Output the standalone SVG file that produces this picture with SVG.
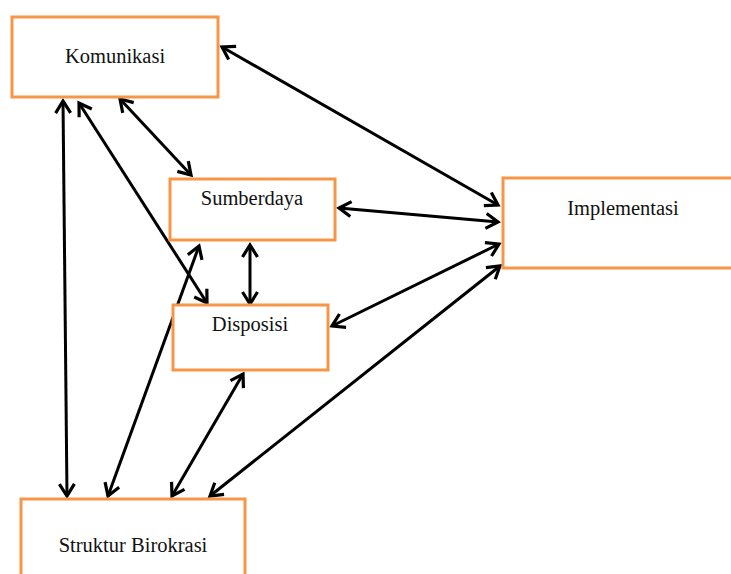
<svg xmlns="http://www.w3.org/2000/svg" width="731" height="574" viewBox="0 0 731 574">
<style>
.box{fill:#fff;stroke:#F79646;stroke-width:3}
.lbl{font-family:"Liberation Serif","Times New Roman",serif;font-size:20.5px;fill:#111;text-anchor:middle}
.c{stroke:#000;stroke-width:3;fill:none;marker-start:url(#ah);marker-end:url(#ah)}
</style>
<defs>
<marker id="ah" markerUnits="userSpaceOnUse" markerWidth="20" markerHeight="20" viewBox="-16 -10 20 20" refX="0" refY="0" orient="auto-start-reverse">
<polyline points="-12,-7.5 0,0 -12,7.5" fill="none" stroke="#000" stroke-width="3.2"/>
</marker>
</defs>
<rect width="731" height="574" fill="#fff"/>
<g id="connectors">
<line class="c" x1="222" y1="47" x2="498" y2="205"/>
<line class="c" x1="120" y1="99" x2="191" y2="175"/>
<line class="c" x1="79" y1="103" x2="207" y2="303"/>
<line class="c" x1="63" y1="101" x2="67" y2="496"/>
<line class="c" x1="339" y1="208" x2="498" y2="222"/>
<line class="c" x1="250" y1="245" x2="250" y2="304"/>
<line class="c" x1="332" y1="326" x2="499" y2="244"/>
<line class="c" x1="199" y1="246" x2="108" y2="496"/>
<line class="c" x1="243" y1="374" x2="172" y2="496"/>
<line class="c" x1="500" y1="266" x2="210" y2="496"/>
</g>
<g id="komunikasi"><rect class="box" x="12" y="17" width="206" height="80"/><text class="lbl" x="115" y="63">Komunikasi</text></g>
<g id="sumberdaya"><rect class="box" x="170" y="179" width="165" height="61"/><text class="lbl" x="252" y="205">Sumberdaya</text></g>
<g id="disposisi"><rect class="box" x="173" y="305" width="155" height="65"/><text class="lbl" x="250" y="331">Disposisi</text></g>
<g id="implementasi"><rect class="box" x="503" y="178" width="240" height="90"/><text class="lbl" x="623" y="215">Implementasi</text></g>
<g id="struktur"><rect class="box" x="21" y="499" width="224" height="90"/><text class="lbl" x="133" y="552">Struktur Birokrasi</text></g>
</svg>
